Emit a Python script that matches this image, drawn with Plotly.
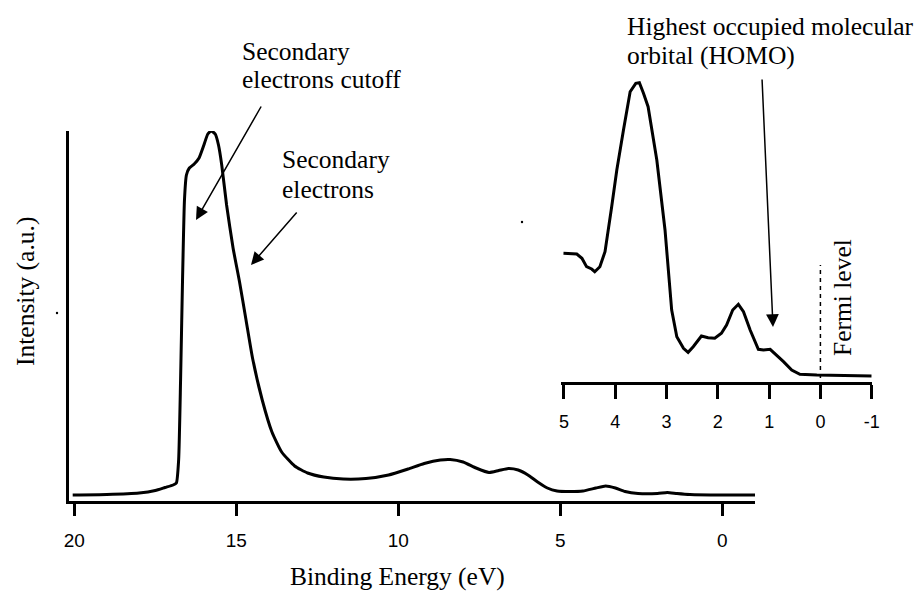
import plotly.graph_objects as go

W, H = 921, 593

# ---- Main spectrum (binding energy in eV, intensity in arbitrary units) ----
main_energy = [20.05, 19.0, 18.0, 17.5, 17.2, 16.95, 16.85, 16.78, 16.72, 16.66, 16.60, 16.54,
               16.45, 16.3, 16.15, 16.0, 15.88, 15.77, 15.65, 15.55, 15.45, 15.3, 15.1, 14.9,
               14.7, 14.5, 14.2, 13.9, 13.6, 13.2, 12.8, 12.3, 11.7, 11.0, 10.3, 9.7, 9.2, 8.7,
               8.4, 8.0, 7.6, 7.2, 6.9, 6.6, 6.3, 6.0, 5.7, 5.4, 5.1, 4.7, 4.3, 3.9, 3.6, 3.3,
               3.0, 2.6, 2.0, 1.7, 1.4, 1.0, 0.0, -1.02]
main_intensity = [6, 6.5, 8, 10.5, 13.5, 16, 18, 41, 121, 221, 301, 326,
                  333, 337, 343, 356, 367, 370, 367, 356, 336, 296, 253, 219,
                  181, 143, 101, 69, 49, 35, 28, 24, 22, 22.5, 26, 32, 37.5, 41,
                  41.5, 39, 33, 28.5, 30.5, 32.5, 31, 26, 19, 13, 10, 9.5, 10, 13, 15, 13,
                  9.5, 7.5, 7.5, 8.5, 7.5, 6.5, 6, 6]
main_ticks = [20, 15, 10, 5, 0]

# ---- Inset: valence band region ----
inset_energy = [5.01, 4.75, 4.65, 4.56, 4.46, 4.40, 4.30, 4.20, 4.07, 3.97, 3.84, 3.71, 3.60,
                3.53, 3.45, 3.36, 3.19, 3.03, 2.90, 2.80, 2.67, 2.58, 2.48, 2.32, 2.19, 2.06,
                1.93, 1.83, 1.71, 1.60, 1.50, 1.37, 1.21, 1.11, 0.98, 0.89, 0.72, 0.56, 0.40,
                0.07, -1.0]
inset_intensity = [128.7, 128, 123.7, 115.3, 113, 110.3, 115.3, 130.3, 175.3, 212, 252, 290.3, 298.7,
                   299.3, 288.7, 275.3, 222, 152, 72, 45.3, 33.7, 29.7, 35.3, 46, 44.3, 43.7,
                   48.7, 57, 72, 77.7, 70.3, 52, 32.7, 32, 32.7, 28.7, 20.3, 12, 7.7,
                   7, 6]
inset_ticks = [5, 4, 3, 2, 1, 0, -1]
fermi_level = 0.0
fermi_line_span = [4, 117]

SERIF = "Liberation Serif"
SANS = "Liberation Sans"


def px(X):
    return X / W


def py(Y):
    return 1 - Y / H


fig = go.Figure()
fig.add_trace(go.Scatter(x=main_energy, y=main_intensity, mode="lines",
                         line=dict(color="black", width=3, shape="spline", smoothing=0.5),
                         xaxis="x", yaxis="y", showlegend=False, hoverinfo="skip"))
fig.add_trace(go.Scatter(x=inset_energy, y=inset_intensity, mode="lines",
                         line=dict(color="black", width=3),
                         xaxis="x2", yaxis="y2", showlegend=False, hoverinfo="skip"))
fig.add_trace(go.Scatter(x=[fermi_level, fermi_level], y=fermi_line_span, mode="lines",
                         line=dict(color="black", width=1.5, dash="4px,4px"),
                         xaxis="x2", yaxis="y2", showlegend=False, hoverinfo="skip"))

fig.update_layout(
    width=W, height=H, autosize=False, showlegend=False,
    margin=dict(l=0, r=0, t=0, b=0, pad=0, autoexpand=False),
    paper_bgcolor="white", plot_bgcolor="rgba(0,0,0,0)",
    xaxis=dict(domain=[px(69), px(755)], range=[20.164, -1.009], anchor="y",
               showline=True, linecolor="black", linewidth=3, showgrid=False, zeroline=False,
               ticks="outside", ticklen=12, tickwidth=3, tickcolor="black",
               tickvals=main_ticks, ticktext=[str(t) for t in main_ticks],
               ticklabelstandoff=8, automargin=False,
               tickfont=dict(family=SANS, size=19, color="black")),
    yaxis=dict(domain=[py(501), py(131)], range=[0, 370], anchor="x",
               showline=True, linecolor="black", linewidth=3, showgrid=False, zeroline=False,
               showticklabels=False, ticks="", automargin=False),
    xaxis2=dict(domain=[px(560.7), px(871.7)], range=[5.064, -1.0], anchor="y2",
                showline=True, linecolor="black", linewidth=3, showgrid=False, zeroline=False,
                ticks="outside", ticklen=14, tickwidth=2.5, tickcolor="black",
                tickvals=inset_ticks, ticktext=[str(t) for t in inset_ticks],
                ticklabelstandoff=7, automargin=False,
                tickfont=dict(family=SANS, size=18, color="black")),
    yaxis2=dict(domain=[py(382), py(70)], range=[0, 312], anchor="x2",
                visible=False),
)

ann = []
def text(t, X, Y, size=25.5, xanchor="left", angle=0):
    ann.append(dict(text=t, x=px(X), y=py(Y), xref="paper", yref="paper",
                    xanchor=xanchor, yanchor="middle", showarrow=False, textangle=angle,
                    font=dict(family=SERIF, size=size, color="black")))

text("Secondary", 240, 51)
text("electrons cutoff", 240, 80)
text("Secondary", 280, 160)
text("electrons", 280, 190)
text("Highest occupied molecular", 625, 26)
text("orbital (HOMO)", 625, 55)
text("Fermi level", 842, 298, xanchor="center", angle=-90)
text("Binding Energy (eV)", 397, 576)
ann[-1]["xanchor"] = "center"
text("Intensity (a.u.)", 25, 292, xanchor="center", angle=-90)


def arrow(tail, tip):
    ann.append(dict(text="", x=px(tip[0]), y=py(tip[1]), xref="paper", yref="paper",
                    ax=tail[0] - tip[0], ay=tail[1] - tip[1], axref="pixel", ayref="pixel",
                    showarrow=True, arrowhead=2, arrowsize=1.7, arrowwidth=1.5,
                    arrowcolor="black", standoff=0))

arrow((262, 105), (196, 220))
arrow((298, 211), (251, 265))
arrow((762, 78), (773, 327))

fig.update_layout(annotations=ann)

# tiny stray dots present in the original figure
for (X, Y) in [(57, 313), (522, 222)]:
    fig.add_shape(type="circle", xref="paper", yref="paper",
                  x0=px(X - 1.2), x1=px(X + 1.2), y0=py(Y + 1.2), y1=py(Y - 1.2),
                  fillcolor="black", line=dict(width=0))

fig.write_html("out.html")
